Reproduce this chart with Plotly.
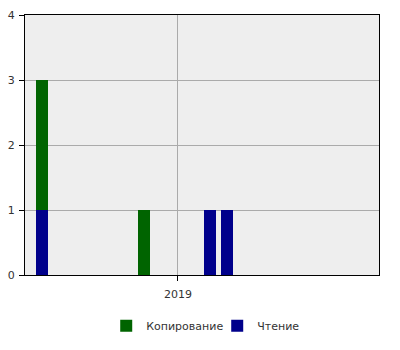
import plotly.graph_objects as go

dates = ["2018-05-14", "2018-11-04", "2019-02-24", "2019-03-26"]
reading = [1, 0, 1, 1]
copying = [2, 1, 0, 0]
x_range = ["2018-04-15", "2019-12-10"]
y_ticks = [0, 1, 2, 3, 4]

bar_w = 20.5 * 86400000

fig = go.Figure()
fig.add_trace(go.Bar(x=dates, y=reading, name="Чтение", marker_color="#00008B",
                     marker_line_width=0, width=bar_w, legendrank=2))
fig.add_trace(go.Bar(x=dates, y=copying, name="Копирование", marker_color="#006400",
                     marker_line_width=0, width=bar_w, legendrank=1))

fig.update_layout(
    width=400, height=350,
    margin=dict(l=25, r=21, t=15, b=75, autoexpand=False),
    barmode="stack",
    plot_bgcolor="#EEEEEE",
    paper_bgcolor="white",
    font=dict(family="DejaVu Sans", size=11, color="#333333"),
    legend=dict(orientation="h", x=0.543, xanchor="center", yref="container",
                y=0.069, yanchor="middle", entrywidth=66,
                traceorder="normal", font=dict(size=11, color="#333333")),
    xaxis=dict(type="date", range=x_range, tickformat="%Y", dtick="M12", tick0="2019-01-01",
               showgrid=True, gridcolor="#AAAAAA", gridwidth=1,
               showline=True, linecolor="black", linewidth=1, mirror=True,
               ticks="outside", ticklen=5, tickcolor="black", zeroline=False,
               ticklabelstandoff=4),
    yaxis=dict(range=[0, 4], tickvals=y_ticks, showgrid=True, gridcolor="#AAAAAA", gridwidth=1,
               showline=True, linecolor="black", linewidth=1, mirror=True,
               ticks="outside", ticklen=5, tickcolor="black", zeroline=False,
               ticklabelstandoff=2),
)

fig.write_html("out.html")
